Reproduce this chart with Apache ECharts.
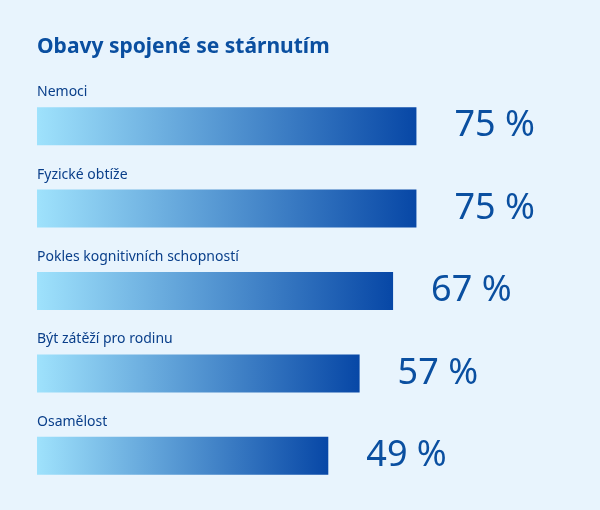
<!DOCTYPE html>
<html><head><meta charset="utf-8">
<script src="https://cdn.jsdelivr.net/npm/echarts@6/dist/echarts.min.js"></script>
<style>html,body{margin:0;background:#e8f4fd}#c{width:600px;height:510px}</style>
</head><body><div id="c"></div>
<script>
const categories=["Nemoci","Fyzické obtíže","Pokles kognitivních schopností","Být zátěží pro rodinu","Osamělost"];
const values=[75,75,67,57,49];
const chart=echarts.init(document.getElementById('c'));
const grad=new echarts.graphic.LinearGradient(0,0,1,0,[{offset:0,color:'#9fe2fc'},{offset:1,color:'#0747a6'}]);
chart.setOption({
 backgroundColor:'#e8f4fd',
 title:{text:'Obavy spojené se stárnutím',left:32,top:32,textStyle:{fontFamily:'Noto Sans',fontSize:21,fontWeight:'bold',color:'#0a4fa0'}},
 grid:{left:37,right:124,top:85,bottom:13},
 xAxis:{type:'log',logBase:10,min:12,max:100,show:false},
 yAxis:{type:'category',data:categories,inverse:true,show:false},
 series:[{type:'bar',data:values,barWidth:38,itemStyle:{color:grad},
   label:{show:true,position:[0,-22],formatter:p=>p.name,fontFamily:'Noto Sans',fontSize:14,color:'#0a3f8a'}},
  {type:'bar',data:values,barWidth:38,barGap:'-100%',itemStyle:{color:'transparent'},
   label:{show:true,position:'right',distance:38,formatter:p=>p.value+' %',fontFamily:'Noto Sans',fontSize:36,color:'#0a4fa0'}}]
});
</script></body></html>
